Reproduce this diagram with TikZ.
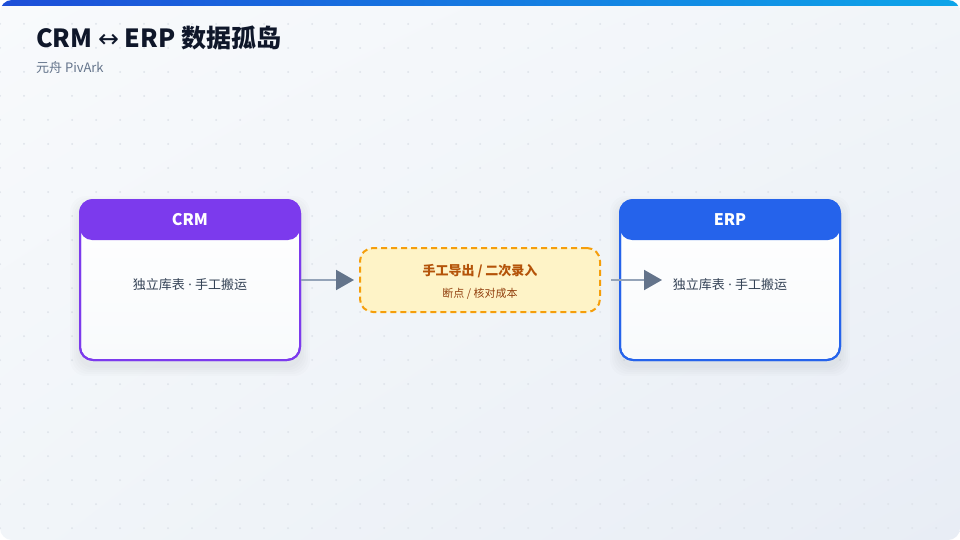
\documentclass[tikz,border=0pt]{standalone}
\usepackage{fontspec}
\setmainfont{Noto Sans CJK SC}
\newfontfamily\latf{Noto Sans}
\newfontfamily\symf{DejaVu Sans}
\usetikzlibrary{arrows.meta,shadings}
\definecolor{bgA}{HTML}{F8FAFC}
\definecolor{bgB}{HTML}{F1F5F9}
\definecolor{bgC}{HTML}{E8EDF5}
\definecolor{barA}{HTML}{1D4ED8}
\definecolor{barB}{HTML}{0EA5E9}
\definecolor{ink}{HTML}{0F172A}
\definecolor{muted}{HTML}{64748B}
\definecolor{body}{HTML}{334155}
\definecolor{crmc}{HTML}{7C3AED}
\definecolor{erpc}{HTML}{2563EB}
\definecolor{amberfill}{HTML}{FEF3C7}
\definecolor{amberline}{HTML}{F59E0B}
\definecolor{ambertxt}{HTML}{B45309}
\definecolor{ambersub}{HTML}{92400E}
\definecolor{lineC}{HTML}{94A3B8}
\definecolor{headC}{HTML}{64748B}
\definecolor{dotC}{HTML}{DDE2E9}
\newcommand{\sdot}{{\latf\ ·\ }}
\begin{document}
\begin{tikzpicture}[x=1pt,y=-1pt,
  sysbox/.style={draw=#1,line width=2pt,rounded corners=13pt,minimum width=220pt,minimum height=160pt,inner sep=0pt,
    top color=white,bottom color=bgA},
  syshead/.style={fill=#1,rounded corners=12pt,minimum width=220pt,minimum height=40pt,inner sep=0pt,
    text=white,font=\fontsize{16}{18}\selectfont\bfseries},
  systext/.style={text=body,font=\fontsize{13}{15}\selectfont},
  gapbox/.style={draw=amberline,fill=amberfill,line width=2pt,dash pattern=on 6pt off 4pt,rounded corners=13pt,
    minimum width=240pt,minimum height=64pt,inner sep=0pt},
  flow/.style={draw=lineC,line width=2pt,-{Triangle[length=18pt,width=20pt,fill=headC,color=headC]}},
  softshadow/.style={fill=black,fill opacity=0.013,rounded corners=16pt}
]
\useasboundingbox (0,0) rectangle (960,540);
\fill[white] (0,0) rectangle (960,540);
\begin{scope}
\clip[rounded corners=12pt] (0,0) rectangle (960,540);
\shade[upper left=bgA,upper right=bgB,lower left=bgB,lower right=bgC] (0,0) rectangle (960,540);
\foreach \i in {0,...,39}{\foreach \j in {1,...,22}{\fill[dotC] (24*\i,24*\j) circle (1pt);}}
\shade[left color=barA,right color=barB] (0,0) rectangle (960,6);
\end{scope}
% soft shadows
\foreach \d in {2,4,6,8,10}{
  \fill[softshadow] (80-\d,200-\d+6) rectangle (300+\d,360+\d+6);
  \fill[softshadow] (620-\d,200-\d+6) rectangle (840+\d,360+\d+6);
}
% title
\node[anchor=base west,inner sep=0pt,text=ink,font=\fontsize{25}{28}\selectfont\bfseries] (title) at (36,48) {CRM {\symf\mdseries ↔} ERP 数据孤岛};
\node[anchor=base west,inner sep=0pt,text=muted,font=\fontsize{13}{15}\selectfont] (sub) at (36,73) {元舟 PivArk};
% CRM
\node[sysbox=crmc] (crm) at (190,280) {};
\node[syshead=crmc] (crmh) at (190,220) {CRM};
\draw[crmc,line width=2pt,rounded corners=13pt] (80,200) rectangle (300,360);
\node[systext] (crmt) at (190,285) {独立库表\sdot 手工搬运};
% ERP
\node[sysbox=erpc] (erp) at (730,280) {};
\node[syshead=erpc] (erph) at (730,220) {ERP};
\draw[erpc,line width=2pt,rounded corners=13pt] (620,200) rectangle (840,360);
\node[systext] (erpt) at (730,285) {独立库表\sdot 手工搬运};
% middle
\node[gapbox] (gap) at (480,280) {};
\node[text=ambertxt,font=\fontsize{13}{15}\selectfont\bfseries] (gapt) at (480,271) {手工导出 / 二次录入};
\node[text=ambersub,font=\fontsize{11}{13}\selectfont] (gaps) at (480,294) {断点 / 核对成本};
% arrows
\draw[flow,shorten >=5pt] (crm.east) -- (gap.west);
\draw[flow,shorten <=10pt,shorten >=-43pt] (gap.east) -- (erp.west);
\end{tikzpicture}
\end{document}
